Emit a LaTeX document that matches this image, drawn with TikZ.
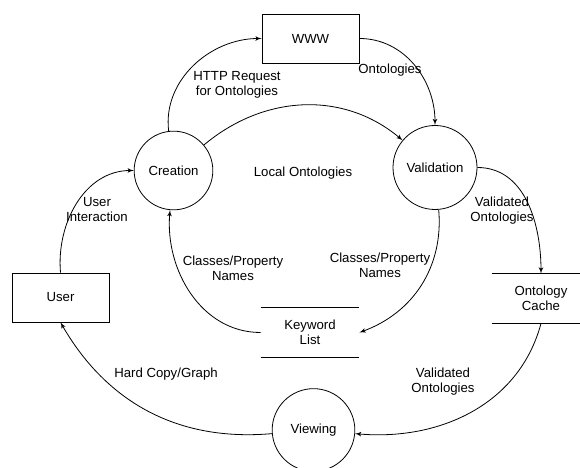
\documentclass[tikz,border=0pt]{standalone}
\usepackage{fontspec}
\setmainfont{Liberation Sans}
\usetikzlibrary{arrows}

\begin{document}
\begin{tikzpicture}[->,semithick,>=latex',x=0.75pt,y=0.75pt,font=\fontsize{9.9pt}{11.25pt}\selectfont]
    \tikzstyle{proc}=[draw=black, circle, minimum size=63pt, inner sep=0pt, fill=none, text=black]
    \tikzstyle{ext}=[draw=black, rectangle, minimum width=72.75pt, minimum height=36.75pt, text=black]
    \tikzstyle{store}=[draw=none, rectangle, minimum width=73.5pt, minimum height=36.75pt, align=center, text=black]
    \tikzstyle{flow}=[align=center, text=black]

    \useasboundingbox (0,0) rectangle (580,467);

    \node[ext]  (www)  at (310.5,428.5) {WWW};
    \node[ext]  (user) at (60.5,169.5)  {User};
    \node[proc, minimum size=59pt] (cre) at (173.5,296.5) {Creation};
    \node[proc] (val)  at (435,299.5)   {Validation};
    \node[proc, minimum size=62pt] (view) at (313.5,37) {Viewing};
    \node[store] (kw)  at (310,134.5)   {Keyword\\List};
    \node[store] (oc)  at (541,168.5)   {Ontology\\Cache};
    \draw[-] (kw.north west) -- (kw.north east) (kw.south west) -- (kw.south east);
    \draw[-] (oc.north west) -- (oc.north east) (oc.south west) -- (oc.south east);

    \node[flow] (l1) at (237,382.5) {HTTP Request\\for Ontologies};
    \node[flow] (l2) at (390,397)   {Ontologies};
    \node[flow] (l3) at (303,294)   {Local Ontologies};
    \node[flow] (l4) at (502,256)   {Validated\\Ontologies};
    \node[flow] (l5) at (380,202)   {Classes/Property\\Names};
    \node[flow] (l6) at (233,199)   {Classes/Property\\Names};
    \node[flow] (l7) at (97,257)    {User\\Interaction};
    \node[flow] (l8) at (443,85)    {Validated\\Ontologies};
    \node[flow] (l9) at (166,93)    {Hard Copy/Graph};

    \path
     (user.north) edge[out=95,in=180] (cre)
     (cre)  edge[out=97,in=180] (www)
     (www)  edge[out=0,in=90] (val)
     (cre)  edge[out=40,in=140] (val)
     (val)  edge[out=0,in=90] (oc.north)
     (val)  edge[out=-85,in=20] (kw.east)
     (kw.west) edge[out=180,in=-95] (cre)
     (oc.south) edge[out=-105,in=-5] (view)
     (view) edge[out=185,in=-60] (user.south)
     ;
\end{tikzpicture}
\end{document}
